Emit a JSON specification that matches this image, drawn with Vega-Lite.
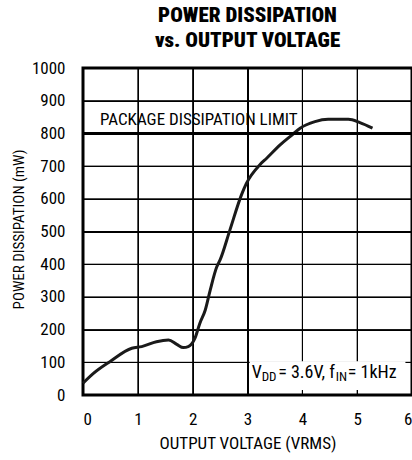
{
  "$schema": "https://vega.github.io/schema/vega-lite/v6.json",
  "width": 329,
  "height": 327,
  "autosize": {"type": "none"},
  "padding": {"left": 83, "top": 68, "right": 0, "bottom": 65},
  "background": "white",
  "title": {
    "text": ["POWER DISSIPATION", "vs. OUTPUT VOLTAGE"],
    "font": "Roboto Condensed, Roboto",
    "fontWeight": 900,
    "fontSize": 21,
    "lineHeight": 25,
    "anchor": "middle",
    "offset": 8,
    "color": "black"
  },
  "config": {
    "font": "Roboto Condensed, Roboto",
    "view": {"stroke": "black", "strokeWidth": 3}
  },
  "resolve": {"axis": {"x": "independent", "y": "independent"}, "scale": {"x": "shared", "y": "shared"}},
  "layer": [
    {
      "data": {"values": [{"g": 1}, {"g": 2}, {"g": 3}, {"g": 4}, {"g": 5}]},
      "mark": {"type": "rule", "color": "black", "strokeWidth": 1},
      "encoding": {"x": {"field": "g", "type": "quantitative", "axis": null}}
    },
    {
      "data": {"values": [{"g": 100}, {"g": 200}, {"g": 300}, {"g": 400}, {"g": 500}, {"g": 600}, {"g": 700}, {"g": 900}]},
      "mark": {"type": "rule", "color": "black", "strokeWidth": 1},
      "encoding": {"y": {"field": "g", "type": "quantitative", "axis": null}}
    },
    {
      "data": {"values": [{}]},
      "mark": {"type": "rect", "fill": "white"},
      "encoding": {
        "x": {"datum": 3.04, "type": "quantitative", "axis": null},
        "x2": {"datum": 5.88},
        "y": {"datum": 15, "type": "quantitative", "axis": null},
        "y2": {"datum": 103}
      }
    },
    {
      "data": {
        "values": [
          {"v": 0.0, "p": 36},
          {"v": 0.19, "p": 66},
          {"v": 0.49, "p": 102},
          {"v": 0.89, "p": 143},
          {"v": 1.07, "p": 148},
          {"v": 1.34, "p": 163},
          {"v": 1.56, "p": 168},
          {"v": 1.71, "p": 155},
          {"v": 1.83, "p": 145},
          {"v": 1.92, "p": 148},
          {"v": 2.04, "p": 173},
          {"v": 2.13, "p": 219},
          {"v": 2.23, "p": 260},
          {"v": 2.32, "p": 321},
          {"v": 2.44, "p": 392},
          {"v": 2.5, "p": 413},
          {"v": 2.68, "p": 505},
          {"v": 2.89, "p": 612},
          {"v": 2.98, "p": 647},
          {"v": 3.23, "p": 705},
          {"v": 3.35, "p": 724},
          {"v": 3.59, "p": 764},
          {"v": 3.81, "p": 795},
          {"v": 3.96, "p": 816},
          {"v": 4.23, "p": 836},
          {"v": 4.47, "p": 843},
          {"v": 4.84, "p": 843},
          {"v": 5.05, "p": 833},
          {"v": 5.28, "p": 816}
        ]
      },
      "mark": {"type": "line", "color": "#1a1a1a", "strokeWidth": 3, "interpolate": "monotone"},
      "encoding": {
        "x": {
          "field": "v",
          "type": "quantitative",
          "scale": {"domain": [0, 6], "nice": false},
          "axis": {
            "grid": true,
            "gridColor": "black",
            "gridWidth": 1,
            "gridOpacity": 1,
            "domain": false,
            "ticks": false,
            "labelOverlap": false,
            "labelColor": "black",
            "labelFontSize": 17,
            "values": [0, 1, 2, 3, 4, 5, 6],
            "format": "d",
            "title": "OUTPUT VOLTAGE (VRMS)",
            "titleColor": "black",
            "titleFontWeight": "normal",
            "titleFontSize": 17,
            "labelPadding": 16,
            "labelBaseline": "top",
            "titlePadding": 8
          }
        },
        "y": {
          "field": "p",
          "type": "quantitative",
          "scale": {"domain": [0, 1000], "nice": false},
          "axis": {
            "grid": true,
            "gridColor": "black",
            "gridWidth": 1,
            "gridOpacity": 1,
            "domain": false,
            "ticks": false,
            "labelOverlap": false,
            "labelColor": "black",
            "labelFontSize": 17,
            "values": [0, 100, 200, 300, 400, 500, 600, 700, 800, 900, 1000],
            "format": "d",
            "title": "POWER DISSIPATION (mW)",
            "titleColor": "black",
            "titleFontWeight": "normal",
            "titleFontSize": 15,
            "labelPadding": 18,
            "titleAngle": -90,
            "titleX": -60,
            "titleY": 161,
            "titleAlign": "center",
            "titleBaseline": "alphabetic"
          }
        }
      }
    },
    {
      "data": {"values": [{}]},
      "mark": {"type": "rule", "strokeWidth": 3, "color": "black"},
      "encoding": {"y": {"datum": 800, "type": "quantitative", "axis": null}}
    },
    {
      "data": {"values": [{}]},
      "mark": {"type": "text", "align": "left", "baseline": "alphabetic", "fontSize": 17, "color": "black"},
      "encoding": {
        "x": {"datum": 0.31, "type": "quantitative", "axis": null},
        "y": {"datum": 826, "type": "quantitative", "axis": null},
        "text": {"value": "PACKAGE DISSIPATION LIMIT"}
      }
    },
    {
      "data": {"values": [{}]},
      "mark": {"type": "text", "align": "left", "baseline": "alphabetic", "fontSize": 18, "color": "black"},
      "encoding": {
        "x": {"datum": 3.077, "type": "quantitative", "axis": null},
        "y": {"datum": 51, "type": "quantitative", "axis": null},
        "text": {"value": "V"}
      }
    },
    {
      "data": {"values": [{}]},
      "mark": {"type": "text", "align": "left", "baseline": "alphabetic", "fontSize": 13, "color": "black"},
      "encoding": {
        "x": {"datum": 3.259, "type": "quantitative", "axis": null},
        "y": {"datum": 43.7, "type": "quantitative", "axis": null},
        "text": {"value": "DD"}
      }
    },
    {
      "data": {"values": [{}]},
      "mark": {"type": "text", "align": "left", "baseline": "alphabetic", "fontSize": 18, "color": "black"},
      "encoding": {
        "x": {"datum": 3.56, "type": "quantitative", "axis": null},
        "y": {"datum": 51, "type": "quantitative", "axis": null},
        "text": {"value": "= 3.6V, f"}
      }
    },
    {
      "data": {"values": [{}]},
      "mark": {"type": "text", "align": "left", "baseline": "alphabetic", "fontSize": 13, "color": "black"},
      "encoding": {
        "x": {"datum": 4.61, "type": "quantitative", "axis": null},
        "y": {"datum": 43.7, "type": "quantitative", "axis": null},
        "text": {"value": "IN"}
      }
    },
    {
      "data": {"values": [{}]},
      "mark": {"type": "text", "align": "left", "baseline": "alphabetic", "fontSize": 18, "color": "black"},
      "encoding": {
        "x": {"datum": 4.83, "type": "quantitative", "axis": null},
        "y": {"datum": 51, "type": "quantitative", "axis": null},
        "text": {"value": "= 1kHz"}
      }
    }
  ]
}
